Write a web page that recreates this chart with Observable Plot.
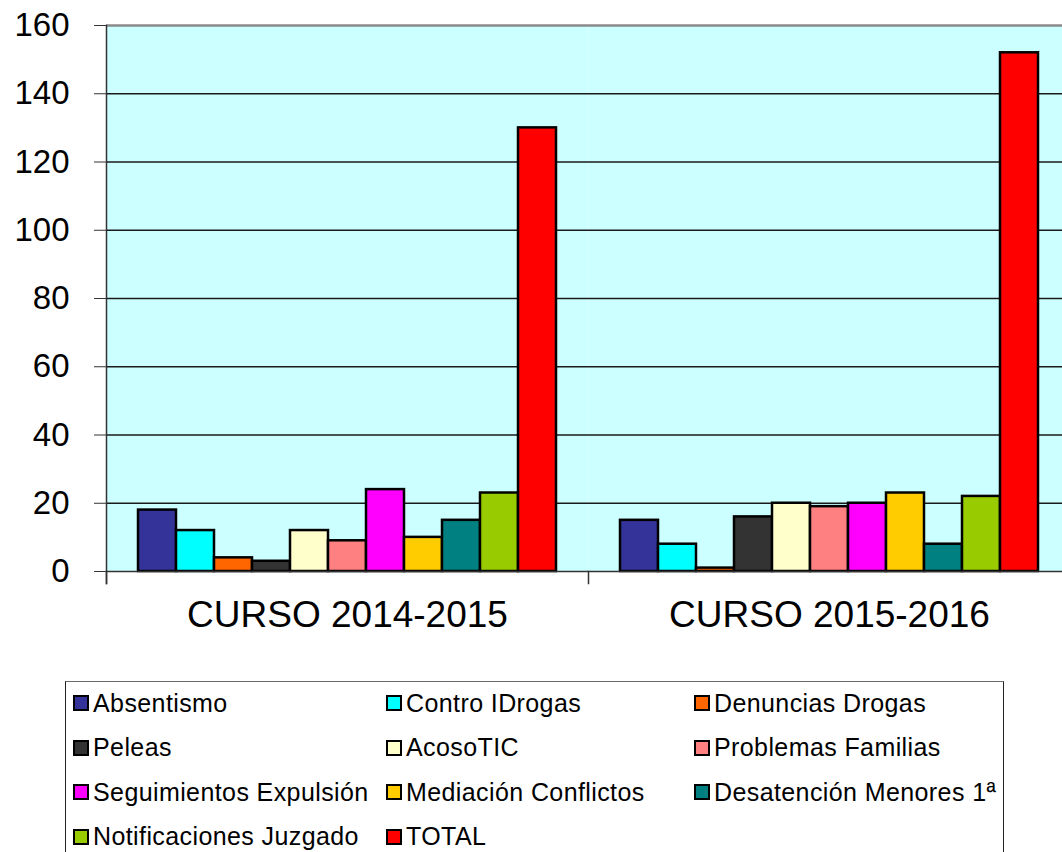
<!DOCTYPE html>
<html><head><meta charset="utf-8">
<script src="https://cdn.jsdelivr.net/npm/d3@7"></script>
<script src="https://cdn.jsdelivr.net/npm/@observablehq/plot@0.6"></script>
<style>
html,body{margin:0;padding:0;background:#fff;overflow:hidden;width:1062px;height:852px}
#chart{position:absolute;left:0;top:0}
#chart svg{max-width:none !important}
#legend{position:absolute;left:65px;top:681px;width:939px;height:220px;border:1px solid #222;border-top-color:#6a6a6a;box-sizing:border-box;font-family:"Liberation Sans",Arial,sans-serif;font-size:25px;letter-spacing:0.4px;color:#000;overflow:hidden;background:#fff}
.item{position:absolute;height:30px;display:flex;align-items:center;white-space:nowrap}
.sw{width:12px;height:12px;border:2px solid #000;margin-right:4px;flex:none}
</style></head><body>
<div id="chart"></div><div id="legend"></div>
<script>
const courses = ["CURSO 2014-2015", "CURSO 2015-2016"];
const series = ["Absentismo", "Contro IDrogas", "Denuncias Drogas", "Peleas", "AcosoTIC",
  "Problemas Familias", "Seguimientos Expulsión", "Mediación Conflictos",
  "Desatención Menores 1ª", "Notificaciones Juzgado", "TOTAL"];
const colors = ["#333399", "#00FFFF", "#FF6600", "#333333", "#FFFFCC",
  "#FF8080", "#FF00FF", "#FFCC00", "#008080", "#99CC00", "#FF0000"];
const values2014 = [18, 12, 4, 3, 12, 9, 24, 10, 15, 23, 130];
const values2015 = [15, 8, 1, 16, 20, 19, 20, 23, 8, 22, 152];
const yTicks = [0, 20, 40, 60, 80, 100, 120, 140, 160];
const gridTicks = [20, 40, 60, 80, 100, 120, 140];

const valuesByCourse = [values2014, values2015];
const data = courses.flatMap((c, ci) => series.map((s, i) => ({curso: c, serie: s, valor: valuesByCourse[ci][i]})));

const H = 660, mt = 25, mb = 89;
const plot = Plot.plot({
  width: 1070, height: H, marginLeft: 106, marginRight: 0, marginTop: mt, marginBottom: mb,
  style: {fontFamily: '"Liberation Sans", Arial, sans-serif', background: "transparent", color: "#000", overflow: "visible", maxWidth: "none"},
  fx: {domain: courses, paddingInner: 0, paddingOuter: 0, label: null},
  x: {domain: series, paddingInner: 0, paddingOuter: 0.72, axis: null},
  y: {domain: [0, 160], label: null},
  color: {domain: series, range: colors},
  marks: [
    Plot.frame({fill: "#CCFFFF", stroke: null}),
    Plot.gridY(gridTicks, {stroke: "#1a1a1a", strokeOpacity: 1, strokeWidth: 1.3}),
    Plot.ruleY([160], {stroke: "#8a8a8a", strokeWidth: 2.5}),
    Plot.frame({anchor: "left", facetAnchor: "left", stroke: "#333", strokeWidth: 1.5, insetBottom: -12}),
    Plot.frame({anchor: "left", stroke: "#333", strokeWidth: 1.5, insetTop: H - mt - mb, insetBottom: -12}),
    Plot.barY(data, {fx: "curso", x: "serie", y: "valor", fill: "serie", stroke: "#000", strokeWidth: 2.5}),
    Plot.ruleY([0], {stroke: "#333", strokeWidth: 1.5}),
    Plot.axisY(yTicks, {tickSize: 12, tickPadding: 25, fontSize: 33, stroke: "#333", label: null}),
    Plot.axisFx({anchor: "bottom", tickSize: 0, tickPadding: 29, fontSize: 37, label: null})
  ]
});
document.getElementById("chart").appendChild(plot);

const legend = document.getElementById("legend");
const colLeft = [7, 320, 628];
series.forEach((s, i) => {
  const row = Math.floor(i / 3), col = i % 3;
  const it = document.createElement("div");
  it.className = "item";
  it.style.left = colLeft[col] + "px";
  it.style.top = (21 + row * 44.5 - 15) + "px";
  const sw = document.createElement("span");
  sw.className = "sw";
  sw.style.background = colors[i];
  const tx = document.createElement("span");
  tx.textContent = s;
  it.appendChild(sw); it.appendChild(tx);
  legend.appendChild(it);
});
</script>
</body></html>
